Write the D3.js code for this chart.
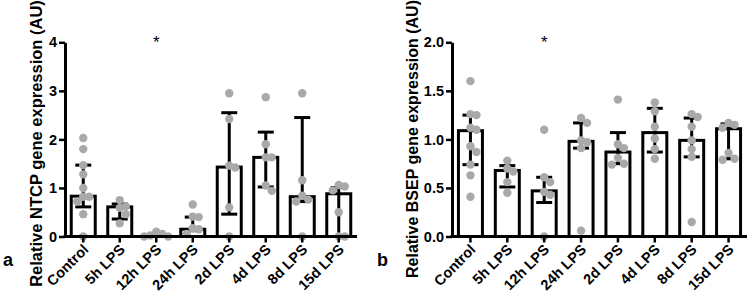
<!DOCTYPE html>
<html>
<head>
<meta charset="utf-8">
<script src="https://cdn.jsdelivr.net/npm/d3@7"></script>
<style>
  body { margin: 0; background: #fff; }
  svg { display: block; font-family: "Liberation Sans", Arial, sans-serif; }
</style>
</head>
<body>
<div id="chart"></div>
<script>
var width = 749, height = 296;

// groups (same for both panels)
const categories = ["Control", "5h LPS", "12h LPS", "24h LPS", "2d LPS", "4d LPS", "8d LPS", "15d LPS"];

// panel a - NTCP
const ntcpBar  = [0.83, 0.61, 0.03, 0.15, 1.43, 1.63, 0.82, 0.88];
const ntcpLow  = [0.61, 0.36, 0.00, 0.12, 0.46, 1.02, 0.72, 0.00];
const ntcpHigh = [1.47, 0.67, 0.06, 0.40, 2.55, 2.15, 2.45, 1.01];
const ntcpPoints = [
    [2.03, 1.80, 1.47, 1.28, 1.00, 0.82, 0.82, 0.72, 0.46, 0.00],
    [0.75, 0.62, 0.59, 0.46, 0.27],
    [0.10, 0.05, 0.02, 0.00, 0.00],
    [0.66, 0.41, 0.40, 0.17, 0.15, 0.05],
    [2.95, 2.42, 1.46, 1.42, 0.60, 0.00],
    [2.87, 1.90, 1.63, 1.63, 1.05, 0.94],
    [2.95, 1.16, 0.84, 0.76, 0.72, 0.00],
    [1.06, 1.03, 0.95, 0.50, 0.00, 0.00]
];
const ntcpTicks = [0, 1, 2, 3, 4];

// panel b - BSEP
const bsepBar  = [1.09, 0.68, 0.47, 0.98, 0.87, 1.07, 0.99, 1.11];
const bsepLow  = [0.74, 0.51, 0.35, 0.91, 0.75, 0.87, 0.82, 0.80];
const bsepHigh = [1.25, 0.73, 0.61, 1.17, 1.07, 1.32, 1.22, 1.16];
const bsepPoints = [
    [1.60, 1.26, 1.25, 1.12, 1.10, 0.93, 0.87, 0.74, 0.63, 0.41],
    [0.78, 0.70, 0.67, 0.56, 0.45],
    [1.10, 0.61, 0.56, 0.46, 0.43, 0.00],
    [1.22, 1.17, 0.99, 0.97, 0.91, 0.06],
    [1.41, 0.95, 0.91, 0.81, 0.75, 0.74],
    [1.38, 1.29, 1.13, 1.01, 0.90, 0.80],
    [1.26, 1.23, 1.13, 0.99, 0.90, 0.82, 0.15],
    [1.17, 1.15, 1.12, 0.86, 0.80, 0.79]
];
const bsepTicks = [0, 0.5, 1.0, 1.5, 2.0];

const svg = d3.select("#chart").append("svg")
    .attr("width", width)
    .attr("height", height);

const panels = [
    { letter: "a", label: "Relative NTCP gene expression (AU)", bar: ntcpBar, low: ntcpLow, high: ntcpHigh,
      points: ntcpPoints, ticks: ntcpTicks, fmt: d3.format("d"), max: 4,
      x0: 65, x1: 357, labelX: 42, labelY: 143.5, labelSize: 16.5, letterX: 3, star: "12h LPS" },
    { letter: "b", label: "Relative BSEP gene expression (AU)", bar: bsepBar, low: bsepLow, high: bsepHigh,
      points: bsepPoints, ticks: bsepTicks, fmt: d3.format(".1f"), max: 2,
      x0: 452, x1: 747, labelX: 418, labelY: 139, labelSize: 16, letterX: 377, star: "12h LPS" }
];

var yTop = 42.3, yBase = 236.5;
var dotR = 4.2, dotColor = "#a9a9a9";

panels.forEach(p => {
    const g = svg.append("g");
    const x = d3.scaleBand().domain(categories).range([p.x0, p.x1]);
    const y = d3.scaleLinear().domain([0, p.max]).range([yBase, yTop]);
    const bw = 24;

    // bars
    g.selectAll(".bar").data(categories).enter().append("rect")
        .attr("x", d => x(d) + x.bandwidth() / 2 - bw / 2)
        .attr("y", (d, i) => y(p.bar[i]))
        .attr("width", bw)
        .attr("height", (d, i) => yBase - y(p.bar[i]))
        .attr("fill", "#fff")
        .attr("stroke", "#000")
        .attr("stroke-width", 3);

    // error bars
    categories.forEach((c, i) => {
        const cx = x(c) + x.bandwidth() / 2;
        g.append("line")
            .attr("x1", cx).attr("x2", cx)
            .attr("y1", y(p.low[i])).attr("y2", y(p.high[i]))
            .attr("stroke", "#000").attr("stroke-width", 3);
        [p.low[i], p.high[i]].forEach(v => {
            g.append("line")
                .attr("x1", cx - 8).attr("x2", cx + 8)
                .attr("y1", y(v)).attr("y2", y(v))
                .attr("stroke", "#000").attr("stroke-width", 3);
        });
    });

    // scatter points, spread sideways when they collide
    categories.forEach((c, i) => {
        const cx = x(c) + x.bandwidth() / 2;
        const placed = [];
        p.points[i].forEach(v => {
            const py = y(v);
            const offsets = [0, 6, -6, 12, -12];
            let dx = 0;
            for (const o of offsets) {
                if (placed.every(q => Math.abs(q.y - py) >= 7 || Math.abs(q.dx - o) >= 6)) { dx = o; break; }
            }
            placed.push({ y: py, dx: dx });
        });
        g.selectAll(null).data(placed).enter().append("circle")
            .attr("cx", d => cx + d.dx)
            .attr("cy", d => d.y)
            .attr("r", dotR)
            .attr("fill", dotColor);
    });

    // axes
    const yAxis = g.append("g")
        .attr("transform", `translate(${p.x0},0)`)
        .call(d3.axisLeft(y).tickValues(p.ticks).tickFormat(p.fmt).tickSize(6).tickSizeOuter(0).tickPadding(2));
    const xAxis = g.append("g")
        .attr("transform", `translate(0,${yBase})`)
        .call(d3.axisBottom(x).tickSize(6).tickSizeOuter(0).tickPadding(3));

    [yAxis, xAxis].forEach(a => {
        a.select(".domain").attr("stroke-width", 3);
        a.selectAll(".tick line").attr("stroke-width", 2.5);
        a.selectAll("text").attr("fill", "#000").style("font-size", "14.5px").style("font-weight", "bold")
            .style("font-family", "'Liberation Sans', Arial, sans-serif");
    });
    xAxis.select(".domain").attr("d", `M${p.x0 - 1.5},0H${p.x1}`);
    xAxis.selectAll(".tick text")
        .attr("text-anchor", "end")
        .attr("dy", null)
        .attr("y", 0)
        .attr("transform", "translate(6,14) rotate(-45)");

    // y label
    g.append("text")
        .attr("transform", `translate(${p.labelX},${p.labelY}) rotate(-90)`)
        .attr("text-anchor", "middle")
        .style("font-size", p.labelSize + "px")
        .style("font-weight", "bold")
        .text(p.label);

    // panel letter
    g.append("text")
        .attr("x", p.letterX).attr("y", 266)
        .style("font-size", "18px")
        .style("font-weight", "bold")
        .text(p.letter);

    // significance star
    g.append("text")
        .attr("x", x(p.star) + x.bandwidth() / 2)
        .attr("y", 48)
        .attr("text-anchor", "middle")
        .style("font-size", "17px")
        .text("*");
});
</script>
</body>
</html>
